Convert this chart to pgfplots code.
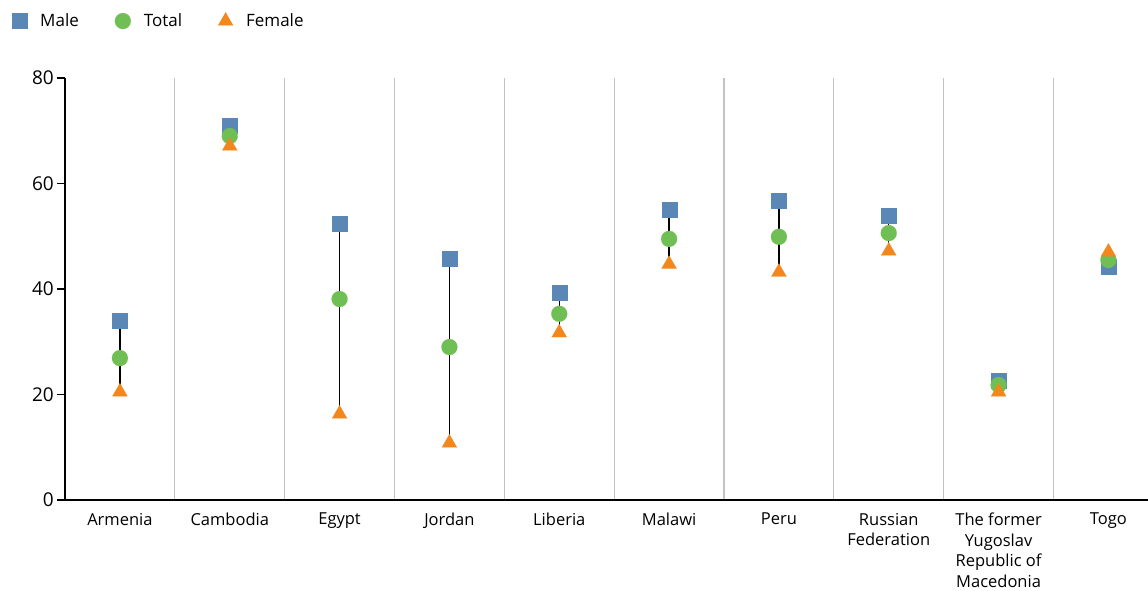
\documentclass[border=0pt]{standalone}
\usepackage{fontspec}
\setmainfont{Open Sans}
\usepackage{pgfplots}
\pgfplotsset{compat=1.18}
\definecolor{cmale}{RGB}{91,135,183}
\definecolor{ctotal}{RGB}{112,191,84}
\definecolor{cfemale}{RGB}{242,135,30}
\definecolor{csep}{RGB}{195,195,195}
\begin{document}
\begin{tikzpicture}
\useasboundingbox (0,0) rectangle (1148pt,590pt);
\begin{axis}[
  at={(65pt,90pt)}, anchor=south west,
  scale only axis, width=1083pt, height=422pt,
  xmin=-0.5, xmax=9.36, ymin=0, ymax=80,
  axis x line=bottom, axis y line=left,
  axis line style={-, line width=2.6pt},
  xtick={0,...,9},
  xticklabels={Armenia,Cambodia,Egypt,Jordan,Liberia,Malawi,Peru,{Russian\\Federation},{The former\\Yugoslav\\Republic of\\Macedonia},Togo},
  x tick label style={align=center, font=\fontsize{16.5pt}{20.5pt}\selectfont, anchor=north, yshift=-3pt, inner sep=2pt},
  x tick style={draw=none},
  minor xtick={0.5,1.5,...,8.5},
  xminorgrids, minor x tick style={draw=none},
  minor grid style={csep, line width=1.3pt},
  ytick={0,20,40,60,80},
  y tick label style={font=\fontsize{19pt}{22pt}\selectfont, inner sep=3pt},
  /pgf/number format/assume math mode=true,
  tick align=outside, major tick length=8pt,
  y tick style={black, line width=1.6pt},
  legend style={at={(-0.0517,1.162)}, anchor=north west, draw=none, fill=none,
    font=\fontsize{17pt}{20pt}\selectfont, legend columns=3,
    /tikz/every odd column/.append style={column sep=11pt},
    /tikz/every even column/.append style={column sep=34pt}},
  legend image code/.code={\draw[#1] plot coordinates {(0pt,0pt)};},
  legend cell align=left,
  clip=false,
]
\addplot[black, line width=1.2pt, unbounded coords=jump, forget plot] coordinates {
 (0,34.1) (0,20.5) (0,nan)
 (1,70.9) (1,67.1) (1,nan)
 (2,52.5) (2,16.3) (2,nan)
 (3,45.7) (3,10.8) (3,nan)
 (4,39.4) (4,31.7) (4,nan)
 (5,55.0) (5,44.7) (5,nan)
 (6,56.7) (6,43.2) (6,nan)
 (7,54.0) (7,47.2) (7,nan)
 (8,22.7) (8,20.5) (8,nan)
 (9,44.2) (9,47.0)
};
\addplot[only marks, color=cmale, mark=square*, mark size=7.5pt, mark options={line width=0.1pt, draw=cmale, fill=cmale}] coordinates {
 (0,34.1) (1,70.9) (2,52.5) (3,45.7) (4,39.4) (5,55.0) (6,56.7) (7,54.0) (8,22.7) (9,44.2)
};
\addlegendentry{Male}
\addplot[only marks, color=ctotal, mark=*, mark size=8pt, mark options={line width=0.1pt, draw=ctotal, fill=ctotal}] coordinates {
 (0,26.9) (1,69.0) (2,38.1) (3,29.0) (4,35.3) (5,49.5) (6,49.9) (7,50.6) (8,21.8) (9,45.5)
};
\addlegendentry{Total}
\addplot[only marks, color=cfemale, mark=triangle*, mark size=8.7pt, mark options={line width=0.1pt, draw=cfemale, fill=cfemale}] coordinates {
 (0,20.5) (1,67.1) (2,16.3) (3,10.8) (4,31.7) (5,44.7) (6,43.2) (7,47.2) (8,20.5) (9,47.0)
};
\addlegendentry{Female}
\end{axis}
\end{tikzpicture}
\end{document}
